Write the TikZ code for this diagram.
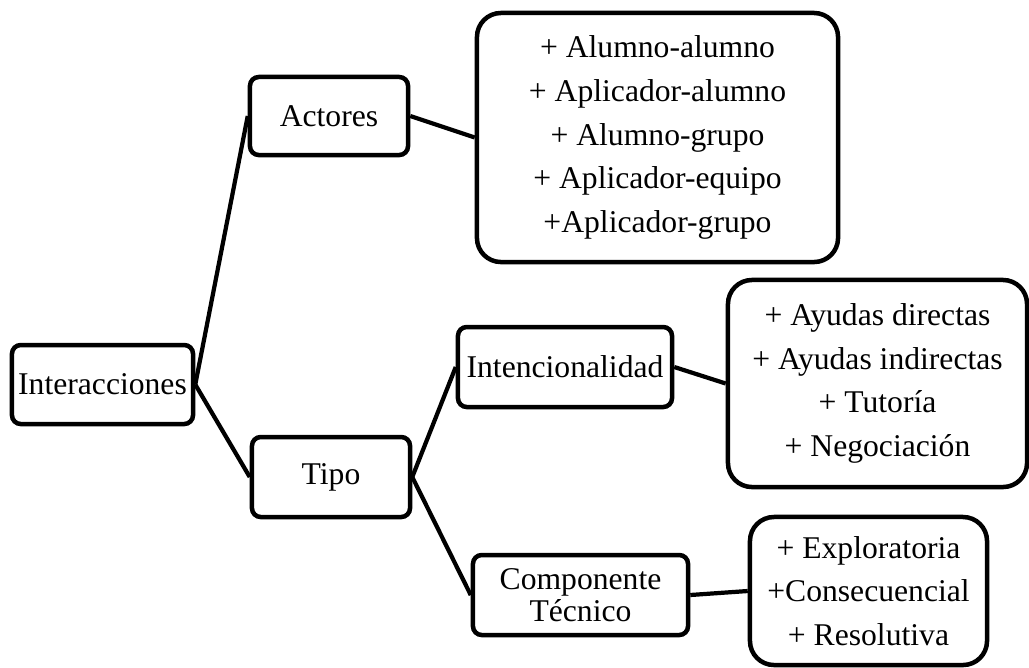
\documentclass[tikz,border=0pt]{standalone}
\usepackage{fontspec}
\setmainfont{Liberation Serif}
\usetikzlibrary{positioning}

\begin{document}
\begin{tikzpicture}[x=0.025cm, y=-0.025cm,
		box/.style={draw, line width=3.2pt, rounded corners=0.22cm, inner sep=0pt, align=center,
			font=\fontsize{22.5}{23}\selectfont},
		listbox/.style={box, rounded corners=0.6cm, font=\fontsize{22.5}{31}\selectfont},
		link/.style={line width=3pt}]
	\useasboundingbox (0,0) rectangle (1029,667);
	\node[box, minimum width=4.525cm, minimum height=1.975cm] (inter) at (102.5,384.5) {Interacciones};
	\node[box, minimum width=3.95cm, minimum height=1.95cm] (actores) at (329,116) {Actores};
	\node[box, minimum width=3.95cm, minimum height=2cm] (tipo) at (331,477) {Tipo};
	\node[listbox, minimum width=9.025cm, minimum height=6.225cm] (actlist) at (657.5,137.5)
		{+ Alumno-alumno\\+ Aplicador-alumno\\+ Alumno-grupo\\+ Aplicador-equipo\\+Aplicador-grupo};
	\node[box, minimum width=5.35cm, minimum height=2cm] (inten) at (565,367) {Intencionalidad};
	\node[listbox, minimum width=7.475cm, minimum height=5.175cm] (intlist) at (877.5,383.5)
		{+ Ayudas directas\\+ Ayudas indirectas\\+ Tutoría\\+ Negociación};
	\node[box, minimum width=5.375cm, minimum height=2cm] (comp) at (580.5,595) {Componente\\Técnico};
	\node[listbox, minimum width=5.925cm, minimum height=3.7cm] (complist) at (868.5,591)
		{+ Exploratoria\\+Consecuencial\\+ Resolutiva};
	\draw[link] (inter.east) -- (actores.west);
	\draw[link] (inter.east) -- (tipo.west);
	\draw[link] (actores.east) -- (actlist.west);
	\draw[link] (tipo.east) -- (inten.west);
	\draw[link] (tipo.east) -- (comp.west);
	\draw[link] (inten.east) -- (intlist.west);
	\draw[link] (comp.east) -- (complist.west);
\end{tikzpicture}
\end{document}
